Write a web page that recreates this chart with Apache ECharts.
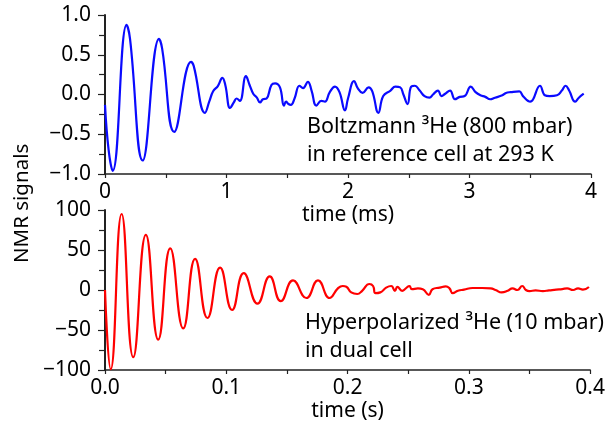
<!DOCTYPE html>
<html>
<head>
<meta charset="utf-8">
<script src="https://cdn.jsdelivr.net/npm/echarts@6/dist/echarts.min.js"></script>
<style>
  html, body { margin: 0; padding: 0; background: #fff; }
  #chart { width: 608px; height: 428px; }
</style>
</head>
<body>
<div id="chart"></div>
<script>
// Boltzmann 3He signal (time in ms, normalised amplitude)
const boltzT = [0, 0.03, 0.063, 0.178, 0.206, 0.31, 0.445, 0.47, 0.57, 0.708, 0.73, 0.823, 0.86, 0.89, 0.93, 0.966, 0.99, 1.03, 1.06, 1.083, 1.11, 1.16, 1.19, 1.22, 1.25, 1.276, 1.3, 1.33, 1.37, 1.4, 1.44, 1.473, 1.49, 1.51, 1.53, 1.56, 1.6, 1.63, 1.67, 1.7, 1.74, 1.78, 1.81, 1.85, 1.893, 1.93, 1.975, 2.0, 2.05, 2.08, 2.12, 2.17, 2.2, 2.25, 2.29, 2.35, 2.39, 2.43, 2.456, 2.49, 2.52, 2.55, 2.59, 2.63, 2.67, 2.7, 2.74, 2.77, 2.8, 2.84, 2.88, 2.92, 2.96, 3.01, 3.05, 3.09, 3.13, 3.17, 3.21, 3.27, 3.3, 3.34, 3.41, 3.44, 3.5, 3.58, 3.62, 3.66, 3.72, 3.76, 3.79, 3.82, 3.87, 3.9, 3.94];
const boltzV = [-0.13, -0.7, -0.96, 0.875, 0.7, -0.83, 0.7, 0.58, -0.47, 0.41, 0.36, -0.23, -0.08, 0.04, 0.11, 0.21, 0.12, -0.17, -0.1, -0.05, -0.08, 0.23, 0.12, 0.01, -0.04, -0.1, -0.06, -0.05, 0.12, 0.14, 0.09, -0.14, -0.09, -0.12, -0.13, -0.05, 0.11, 0.08, 0.16, 0.05, -0.14, -0.08, -0.09, 0.03, 0.1, 0.03, -0.2, -0.05, 0.17, 0.08, 0.02, 0.09, 0.04, -0.23, -0.02, 0.05, 0.1, 0.09, 0.0, -0.12, 0.1, 0.11, 0.05, -0.02, -0.04, 0.0, 0.05, -0.02, 0.01, 0.05, -0.06, -0.03, -0.02, 0.1, 0.03, -0.01, -0.03, -0.06, -0.04, -0.01, 0.02, 0.03, 0.04, -0.02, -0.09, 0.11, -0.01, -0.02, -0.01, 0.05, 0.11, 0.05, -0.09, -0.04, 0.01];

// Hyperpolarized 3He signal (time in s, amplitude)
const hyperT = [0, 0.0047, 0.0137, 0.0233, 0.0337, 0.0439, 0.0538, 0.0645, 0.0743, 0.0845, 0.0949, 0.1048, 0.1144, 0.1257, 0.1358, 0.1449, 0.155, 0.166, 0.1756, 0.1852, 0.192, 0.196, 0.199, 0.203, 0.208, 0.212, 0.218, 0.221, 0.223, 0.227, 0.2318, 0.236, 0.239, 0.241, 0.245, 0.248, 0.251, 0.253, 0.258, 0.262, 0.267, 0.27, 0.276, 0.281, 0.284, 0.2867, 0.291, 0.296, 0.303, 0.311, 0.318, 0.322, 0.327, 0.332, 0.336, 0.34, 0.344, 0.347, 0.35, 0.355, 0.361, 0.366, 0.372, 0.377, 0.381, 0.386, 0.39, 0.394, 0.399];
const hyperV = [0, -99, 95, -84, 69, -62, 52, -48, 39, -35, 28, -25, 21, -17, 17, -14, 12, -10, 12, -10, 2, 5, 4, -3, -5, -1, 7.5, 5, -4, -3, 3, 5, -1, 4, -1, 2, 5, 1, 2, 1, -6, 1, 3, 4.5, 2, -4, -1, 0.5, 2.5, 2.5, 2, 0, -3, -1, 2, 0, 5, 0, -1.5, -0.5, -1.3, -0.5, 0.5, 1.2, 2, 0, 2, 0.5, 3.8];

// Tick labels
const topXTicks = ['0', '1', '2', '3', '4'];
const topYTicks = ['\u22121.0', '\u22120.5', '0.0', '0.5', '1.0'];
const botXTicks = ['0.0', '0.1', '0.2', '0.3', '0.4'];
const botYTicks = ['\u2212100', '\u221250', '0', '50', '100'];

const FONT = 'Noto Sans';
const FS = 21;
const INK = '#000';
const AXIS = '#222';

const pair = (xs, ys) => xs.map((x, i) => [x, ys[i]]);

function xAxis(grid, min, max, interval, labels, name) {
  return {
    type: 'value', gridIndex: grid, min: min, max: max, interval: interval,
    name: name, nameLocation: 'middle', nameGap: 31,
    nameTextStyle: { color: INK, fontFamily: FONT, fontSize: FS },
    axisLine: { show: true, onZero: false, lineStyle: { color: AXIS, width: 1.5 } },
    axisTick: { show: true, inside: false, length: 4, lineStyle: { color: AXIS, width: 1.2 } },
    minorTick: { show: true, splitNumber: 2, length: 4, lineStyle: { color: AXIS, width: 1.2 } },
    splitLine: { show: false },
    axisLabel: {
      color: INK, fontFamily: FONT, fontSize: FS, margin: 8,
      formatter: v => labels[Math.round((v - min) / interval)]
    }
  };
}

function yAxis(grid, min, max, interval, labels) {
  return {
    type: 'value', gridIndex: grid, min: min, max: max, interval: interval,
    axisLine: { show: true, lineStyle: { color: AXIS, width: 2 } },
    axisTick: { show: true, inside: false, length: 7, lineStyle: { color: AXIS, width: 1.2 } },
    minorTick: { show: true, splitNumber: 2, length: 6, lineStyle: { color: AXIS, width: 1.2 } },
    splitLine: { show: false },
    axisLabel: {
      color: INK, fontFamily: FONT, fontSize: FS, margin: 14,
      formatter: v => labels[Math.round((v - min) / interval)]
    }
  };
}

const chart = echarts.init(document.getElementById('chart'), null, { renderer: 'canvas' });
chart.setOption({
  animation: false,
  backgroundColor: '#fff',
  grid: [
    { left: 105, top: 15, width: 486, height: 159 },
    { left: 105, top: 210, width: 486, height: 160 }
  ],
  xAxis: [
    xAxis(0, 0, 4, 1, topXTicks, 'time (ms)'),
    xAxis(1, 0, 0.4, 0.1, botXTicks, 'time (s)')
  ],
  yAxis: [
    yAxis(0, -1, 1, 0.5, topYTicks),
    yAxis(1, -100, 100, 50, botYTicks)
  ],
  series: [
    {
      type: 'line', xAxisIndex: 0, yAxisIndex: 0, data: pair(boltzT, boltzV),
      showSymbol: false, smooth: 0.45, lineStyle: { color: '#0a0aff', width: 2.2 }
    },
    {
      type: 'line', xAxisIndex: 1, yAxisIndex: 1, data: pair(hyperT, hyperV),
      showSymbol: false, smooth: 0.5, lineStyle: { color: '#ff0000', width: 2.2 }
    }
  ],
  graphic: [
    {
      type: 'text', rotation: Math.PI / 2, x: 12, y: 263,
      style: { text: 'NMR signals', fill: INK, font: '20.5px "Noto Sans"' }
    },
    {
      type: 'text', x: 307, y: 113,
      style: { text: 'Boltzmann \u00b3He (800 mbar)\nin reference cell at 293 K', fill: INK, font: '21.5px "Noto Sans"', lineHeight: 28 }
    },
    {
      type: 'text', x: 305, y: 309,
      style: { text: 'Hyperpolarized \u00b3He (10 mbar)\nin dual cell', fill: INK, font: '21.5px "Noto Sans"', lineHeight: 28 }
    }
  ]
});
</script>
</body>
</html>
